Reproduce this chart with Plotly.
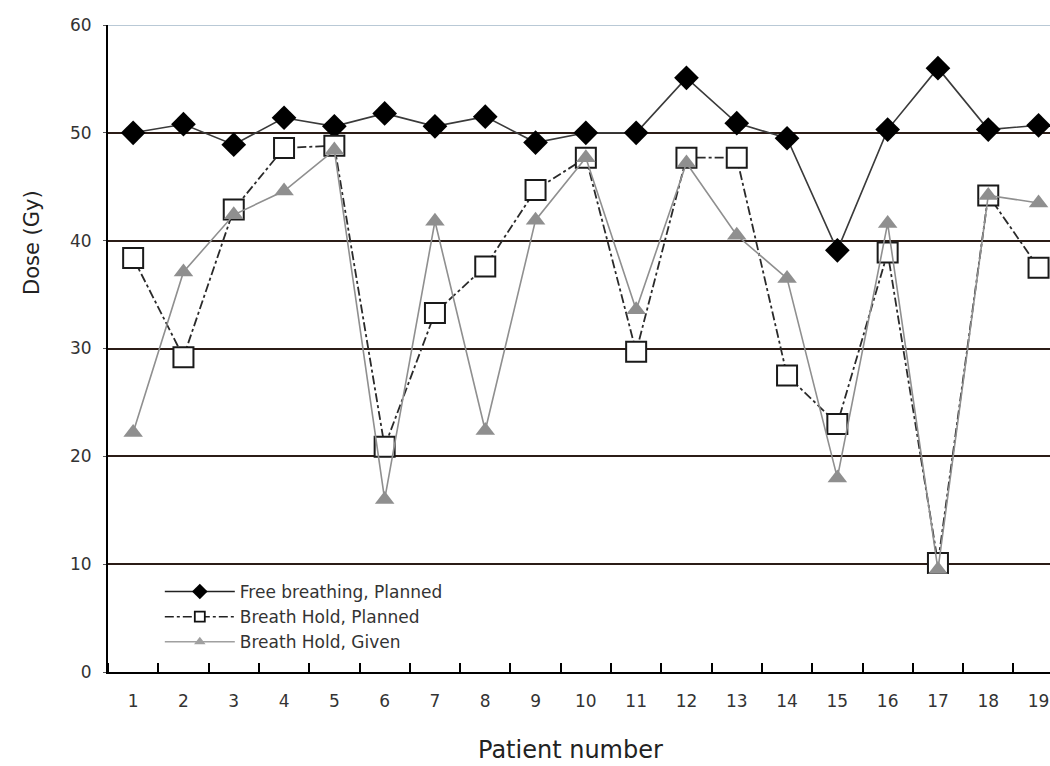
import plotly.graph_objects as go

# Patient numbers and delivered/planned doses (Gy)
patients = list(range(1, 20))
free_breathing_planned = [50.0, 50.8, 48.9, 51.4, 50.6, 51.8, 50.6, 51.5, 49.1, 50.0,
                          50.0, 55.1, 50.9, 49.5, 39.1, 50.3, 56.0, 50.3, 50.7]
breath_hold_planned = [38.4, 29.2, 42.9, 48.6, 48.8, 20.9, 33.3, 37.6, 44.7, 47.7,
                       29.7, 47.7, 47.7, 27.5, 23.0, 38.9, 10.1, 44.2, 37.5]
breath_hold_given = [22.2, 37.1, 42.4, 44.6, 48.4, 16.0, 41.8, 22.4, 41.9, 47.7,
                     33.6, 47.2, 40.5, 36.5, 18.0, 41.6, 9.5, 44.2, 43.5]
y_ticks = [0, 10, 20, 30, 40, 50, 60]

names = ["Free breathing, Planned", "Breath Hold, Planned", "Breath Hold, Given"]

W, H = 1050, 766
L, R, T, B = 108, 0, 25, 94
GRAY = "#8f8f8f"
FONT = "DejaVu Sans, Liberation Sans, Arial, sans-serif"

fig = go.Figure()

# Data traces
fig.add_trace(go.Scatter(
    x=patients, y=free_breathing_planned, mode="lines+markers", showlegend=False,
    line=dict(color="#3a3a3a", width=1.6),
    marker=dict(symbol="diamond", size=19, color="black"),
))
fig.add_trace(go.Scatter(
    x=patients, y=breath_hold_planned, mode="lines+markers", showlegend=False,
    line=dict(color="#2a2a2a", width=1.8, dash="dashdot"),
    marker=dict(symbol="square", size=20, color="white",
                line=dict(color="#1a1a1a", width=2)),
))
fig.add_trace(go.Scatter(
    x=patients, y=breath_hold_given, mode="lines+markers", showlegend=False,
    line=dict(color=GRAY, width=1.6),
    marker=dict(symbol="triangle-up", size=17, color=GRAY),
))

# Legend entries with small symbols
fig.add_trace(go.Scatter(
    x=[None], y=[None], mode="lines+markers", name=names[0],
    line=dict(color="#222222", width=1.5),
    marker=dict(symbol="diamond", size=12, color="black"),
))
fig.add_trace(go.Scatter(
    x=[None], y=[None], mode="lines+markers", name=names[1],
    line=dict(color="#222222", width=1.5, dash="dashdot"),
    marker=dict(symbol="square", size=10, color="white",
                line=dict(color="#111111", width=1.8)),
))
fig.add_trace(go.Scatter(
    x=[None], y=[None], mode="lines+markers", name=names[2],
    line=dict(color="#a0a0a0", width=1.5),
    marker=dict(symbol="triangle-up", size=10, color="#a0a0a0"),
))

x_end = 0.5 + (W - L) / 50.3
ph = H - T - B
pw = W - L - R

fig.update_layout(
    width=W, height=H,
    margin=dict(l=L, r=R, t=T, b=B, pad=0),
    paper_bgcolor="white", plot_bgcolor="white",
    font=dict(family=FONT, color="#333333"),
    legend=dict(
        x=0.055, y=(H - B - 574) / ph, xanchor="left", yanchor="top",
        bgcolor="rgba(255,255,255,0)", borderwidth=0,
        font=dict(size=17, color="#333333", family=FONT),
        itemwidth=70, tracegroupgap=0,
    ),
    xaxis=dict(
        range=[0.5, x_end], tickmode="array", tickvals=patients,
        ticktext=[str(p) for p in patients],
        ticks="", showgrid=False, zeroline=False,
        showline=True, linecolor="black", linewidth=2,
        tickfont=dict(size=17, color="#333333", family=FONT),
        ticklabelstandoff=13,
        minor=dict(tickmode="linear", tick0=0.5, dtick=1, ticks="inside",
                   ticklen=9, tickwidth=2, tickcolor="black", showgrid=False),
    ),
    yaxis=dict(
        range=[0, 60], tickmode="array", tickvals=y_ticks,
        ticks="outside", ticklen=3, tickcolor="#555555",
        showgrid=True, gridcolor="#2b1c16", gridwidth=2,
        zeroline=False, showline=True, linecolor="black", linewidth=2,
        tickfont=dict(size=17, color="#333333", family=FONT),
        ticklabelstandoff=8,
    ),
    shapes=[
        dict(type="line", xref="paper", yref="y", x0=0, x1=1, y0=60, y1=60,
             line=dict(color="#b9c9d6", width=2), layer="above"),
    ],
    annotations=[
        dict(text="Patient number", xref="paper", yref="paper",
             x=(570 - L) / pw, y=-(750 - (H - B)) / ph,
             xanchor="center", yanchor="middle", showarrow=False,
             font=dict(size=24, color="#222222", family=FONT)),
        dict(text="Dose (Gy)", xref="paper", yref="paper",
             x=-(L - 32) / pw, y=(H - B - 243) / ph,
             xanchor="center", yanchor="middle", textangle=-90, showarrow=False,
             font=dict(size=21, color="#222222", family=FONT)),
    ],
)

fig.write_html("out.html")
